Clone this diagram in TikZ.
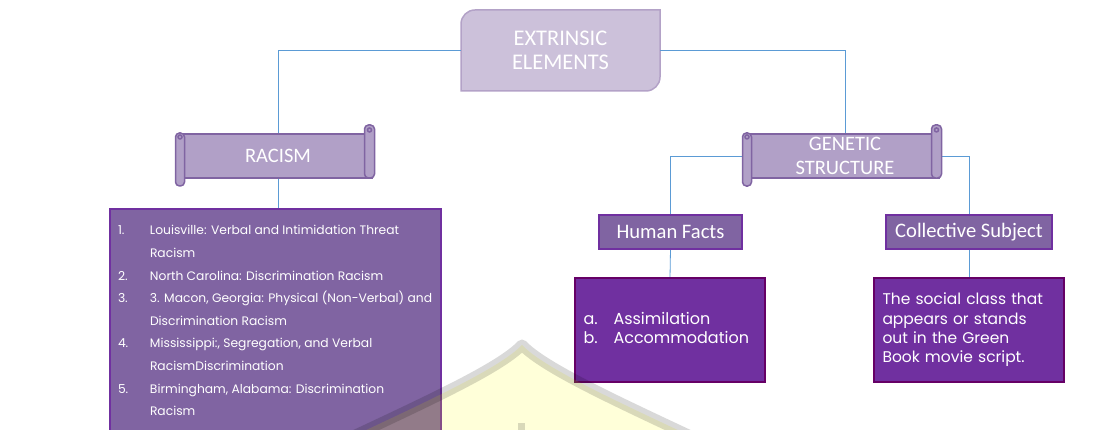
\documentclass[tikz,border=0pt]{standalone}
\usepackage{fontspec}
\setmainfont{Carlito}
\newfontfamily\listfont{Poppins}
\usepackage{tikz}
\usetikzlibrary{positioning}
\usetikzlibrary{calc}
\usetikzlibrary{backgrounds}

\definecolor{linkblue}{HTML}{5B9BD5}
\definecolor{topfill}{HTML}{CCC1DA}
\definecolor{topdraw}{HTML}{B3A2C7}
\definecolor{scrollfill}{HTML}{B1A0C7}
\definecolor{scrolldraw}{HTML}{8064A2}
\definecolor{headfill}{HTML}{8064A2}
\definecolor{headdraw}{HTML}{7030A0}
\definecolor{infofill}{HTML}{7030A0}
\definecolor{infodraw}{HTML}{660066}
\definecolor{markyellow}{HTML}{FFFF00}

\tikzset{
  link/.style={draw=linkblue, line width=0.8pt},
  topbox/.style={minimum width=199pt, minimum height=81pt, align=center,
    text=white, outer sep=0pt, font=\fontsize{22.4}{24}\selectfont},
  topline/.style={fill=topfill, draw=topdraw, line width=1.5pt},
  scrollline/.style={fill=scrollfill, draw=scrolldraw, line width=1.5pt},
  scrollbox/.style={scrollline, minimum width=189pt, minimum height=44pt,
    align=center, text=white, outer sep=0pt, font=\fontsize{20.5}{24}\selectfont},
  headbox/.style={fill=headfill, draw=headdraw, line width=1.5pt, text=white,
    minimum width=143pt, minimum height=34pt, outer sep=0pt,
    font=\fontsize{20.6}{22}\selectfont},
  infobox/.style={fill=infofill, draw=infodraw, line width=1.5pt, text=white,
    minimum height=104pt, text width=173pt, inner xsep=8.5pt, align=left,
    outer sep=0pt, font=\listfont\fontsize{16}{19.3}\selectfont},
  listbox/.style={fill=headfill, draw=headdraw, line width=1.5pt, text=white,
    inner xsep=8pt, inner ysep=10pt, outer sep=0pt,
    font=\listfont\fontsize{12.3}{22.6}\selectfont}
}

% the two rolled ends of a scroll banner
\newcommand{\scrollends}[1]{%
  \draw[scrollline, rounded corners=4pt] ($(#1.south west)+(-8,-8)$) rectangle ($(#1.north west)+(1,1)$);
  \draw[scrollline] ($(#1.north west)+(-3.5,-3)$) circle (2pt);
  \draw[scrollline, rounded corners=4pt] ($(#1.south east)+(-8,0)$) rectangle ($(#1.north east)+(2,9)$);
  \draw[scrollline] ($(#1.north east)+(-3,4)$) circle (2pt);
}

\begin{document}
\begin{tikzpicture}[x=1pt,y=1pt]
\useasboundingbox (0,0) rectangle (1106,430);

\node[topbox] (extr) at (560.5,379.5) {EXTRINSIC\\ELEMENTS};
\begin{pgfonlayer}{background}
\draw[topline] (extr.south west) -- ($(extr.north west)+(0,-14)$) arc (180:90:14)
  -- (extr.north east) -- ($(extr.south east)+(0,14)$) arc (0:-90:14) -- cycle;
\end{pgfonlayer}

\node[scrollbox] (racism) at (278,274) {RACISM};
\scrollends{racism}
\node[scrollbox] (genetic) at (845,274) {GENETIC\\STRUCTURE};
\scrollends{genetic}

\node[headbox] (human) at (670.5,198) {Human Facts};
\node[headbox, minimum width=166pt] (collective) at (969,198) {Collective Subject};

\node[infobox] (assim) at (670,100) {%
  \begin{tabular}{@{}p{30pt}@{}l@{}}
  a. & Assimilation\\
  b. & Accommodation
  \end{tabular}};
\node[infobox, font=\listfont\fontsize{15.5}{19.3}\selectfont] (social) at (969,100)
  {The social class that\\appears or stands\\out in the Green\\Book movie script.};

\node[listbox, anchor=north west] (places) at (110,221) {%
  \begin{minipage}[t][215pt][t]{315pt}
  \begin{tabular}{@{}p{32pt}@{}l@{}}
  1. & Louisville: Verbal and Intimidation Threat\\
     & Racism\\
  2. & North Carolina: Discrimination Racism\\
  3. & 3. Macon, Georgia: Physical (Non-Verbal) and\\
     & Discrimination Racism\\
  4. & Mississippi:, Segregation, and Verbal\\
     & RacismDiscrimination\\
  5. & Birmingham, Alabama: Discrimination\\
     & Racism
  \end{tabular}
  \end{minipage}};

% connectors
\begin{pgfonlayer}{background}
\draw[link] (extr.west) -| (racism.north);
\draw[link] (extr.east) -| (genetic.north);
\draw[link] (racism.south) -- (places.north -| racism.south);
\draw[link] (genetic.west) -| (human.north);
\draw[link] (genetic.east) -| (collective.north);
\draw[link] (human.south) -- (assim.north);
\draw[link] (collective.south) -- (social.north);
\end{pgfonlayer}

% watermark
\fill[markyellow, opacity=0.15] (345,-10) .. controls (430,30) and (500,62) .. (522,85)
  .. controls (544,62) and (614,30) .. (699,-10) -- cycle;
\draw[black, opacity=0.15, line width=11pt, line join=round] (345,-10) .. controls (430,30) and (500,62) .. (522,85)
  .. controls (544,62) and (614,30) .. (699,-10);
\fill[black, opacity=0.15] (518,-2) rectangle (525,7);
\end{tikzpicture}
\end{document}
